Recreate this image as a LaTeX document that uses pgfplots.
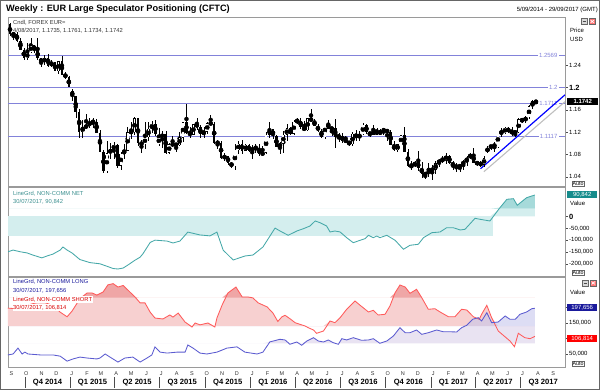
\documentclass[border=0pt]{standalone}
\usepackage{fontspec}
\setmainfont{Liberation Sans}
\usepackage{pgfplots}
\usepackage{pgfplotstable}
\pgfplotsset{compat=1.18}
\usepgfplotslibrary{fillbetween}

\definecolor{hlc}{HTML}{8282DA}
\definecolor{netline}{HTML}{45A8A8}
\definecolor{netband}{HTML}{D4EEEE}
\definecolor{netdark}{HTML}{A6DADA}
\definecolor{netbox}{HTML}{168C8C}
\definecolor{longline}{HTML}{5B5BD0}
\definecolor{longfill}{HTML}{C6C6EC}
\definecolor{lavfill}{HTML}{E4DCEF}
\definecolor{longbox}{HTML}{1A1A9C}
\definecolor{shortline}{HTML}{FF5A5A}
\definecolor{shortfill}{HTML}{F7D0D0}
\definecolor{shortdark}{HTML}{EFA6A6}
\definecolor{shortbox}{HTML}{FF0000}
\definecolor{frame}{HTML}{9A9A9A}

\pgfplotstableread{
w o h l c
0 1.3130 1.3160 1.2920 1.2950
1 1.2950 1.2990 1.2860 1.2960
2 1.2960 1.3000 1.2820 1.2830
3 1.2830 1.2880 1.2680 1.2680
4 1.2680 1.2710 1.2500 1.2520
5 1.2520 1.2790 1.2500 1.2630
6 1.2630 1.2890 1.2620 1.2760
7 1.2760 1.2770 1.2610 1.2670
8 1.2670 1.2890 1.2490 1.2520
9 1.2520 1.2530 1.2360 1.2450
10 1.2450 1.2580 1.2400 1.2530
11 1.2530 1.2600 1.2360 1.2390
12 1.2390 1.2500 1.2360 1.2450
13 1.2450 1.2460 1.2290 1.2290
14 1.2290 1.2480 1.2250 1.2470
15 1.2470 1.2570 1.2220 1.2230
16 1.2230 1.2270 1.2160 1.2190
17 1.2190 1.2210 1.2000 1.2000
18 1.1940 1.1980 1.1750 1.1840
19 1.1840 1.1850 1.1460 1.1560
20 1.1560 1.1620 1.1100 1.1200
21 1.1200 1.1420 1.1100 1.1290
22 1.1290 1.1530 1.1260 1.1310
23 1.1310 1.1450 1.1270 1.1390
24 1.1390 1.1450 1.1280 1.1380
25 1.1380 1.1430 1.1180 1.1190
26 1.1190 1.1240 1.0840 1.0840
27 1.0840 1.0880 1.0460 1.0500
28 1.0500 1.1050 1.0460 1.0820
29 1.0820 1.1000 1.0710 1.0890
30 1.0890 1.1030 1.0710 1.0970
31 1.0970 1.0980 1.0560 1.0600
32 1.0600 1.0850 1.0520 1.0810
33 1.0810 1.0990 1.0720 1.0870
34 1.0870 1.1290 1.0870 1.1200
35 1.1200 1.1390 1.1070 1.1200
36 1.1200 1.1470 1.1150 1.1450
37 1.1450 1.1460 1.0960 1.1010
38 1.1010 1.1060 1.0820 1.0980
39 1.0980 1.1380 1.0890 1.1110
40 1.1110 1.1380 1.1050 1.1260
41 1.1260 1.1400 1.1190 1.1350
42 1.1350 1.1410 1.1130 1.1160
43 1.0980 1.1280 1.0960 1.1110
44 1.1110 1.1220 1.0920 1.1160
45 1.1160 1.1220 1.0810 1.0830
46 1.0830 1.1000 1.0810 1.0980
47 1.0980 1.1130 1.0940 1.0980
48 1.0980 1.0990 1.0850 1.0970
49 1.0970 1.1210 1.0960 1.1100
50 1.1100 1.1390 1.1020 1.1380
51 1.1380 1.1710 1.1160 1.1190
52 1.1190 1.1290 1.1090 1.1150
53 1.1150 1.1350 1.1140 1.1340
54 1.1340 1.1460 1.1240 1.1300
55 1.1300 1.1320 1.1100 1.1160
56 1.1160 1.1290 1.1100 1.1210
57 1.1210 1.1390 1.1170 1.1360
58 1.1360 1.1500 1.1340 1.1350
59 1.1350 1.1380 1.0990 1.1010
60 1.1010 1.1060 1.0900 1.1010
61 1.1010 1.1040 1.0710 1.0740
62 1.0740 1.0820 1.0680 1.0770
63 1.0770 1.0780 1.0620 1.0650
64 1.0650 1.0670 1.0560 1.0590
65 1.0590 1.0980 1.0520 1.0880
66 1.0880 1.1040 1.0800 1.0990
67 1.0990 1.1060 1.0800 1.0870
68 1.0870 1.0990 1.0860 1.0970
69 1.0970 1.0990 1.0850 1.0860
70 1.0860 1.0970 1.0710 1.0920
71 1.0920 1.0990 1.0820 1.0920
72 1.0920 1.0990 1.0780 1.0800
73 1.0800 1.0960 1.0800 1.0830
74 1.0830 1.1200 1.0810 1.1150
75 1.1150 1.1380 1.1090 1.1250
76 1.1250 1.1260 1.1070 1.1130
77 1.1130 1.1140 1.0930 1.0930
78 1.0930 1.1030 1.0810 1.1000
79 1.1000 1.1220 1.0820 1.1150
80 1.1150 1.1340 1.1050 1.1270
81 1.1270 1.1290 1.1140 1.1170
82 1.1170 1.1410 1.1140 1.1390
83 1.1390 1.1460 1.1350 1.1400
84 1.1400 1.1460 1.1260 1.1290
85 1.1290 1.1400 1.1220 1.1230
86 1.1230 1.1450 1.1220 1.1450
87 1.1450 1.1620 1.1380 1.1400
88 1.1400 1.1440 1.1310 1.1310
89 1.1310 1.1350 1.1200 1.1220
90 1.1220 1.1250 1.1100 1.1110
91 1.1110 1.1370 1.1080 1.1370
92 1.1370 1.1420 1.1250 1.1250
93 1.1250 1.1300 1.1130 1.1280
94 1.1280 1.1430 1.0910 1.1120
95 1.1120 1.1180 1.1030 1.1130
96 1.1130 1.1190 1.1000 1.1050
97 1.1050 1.1130 1.1040 1.1040
98 1.1040 1.1050 1.0950 1.0980
99 1.0980 1.1200 1.0950 1.1170
100 1.1170 1.1230 1.1050 1.1090
101 1.1090 1.1220 1.1050 1.1160
102 1.1160 1.1370 1.1150 1.1330
103 1.1330 1.1340 1.1160 1.1200
104 1.1200 1.1210 1.1120 1.1150
105 1.1150 1.1330 1.1150 1.1230
106 1.1230 1.1280 1.1150 1.1150
107 1.1150 1.1260 1.1140 1.1230
108 1.1230 1.1270 1.1150 1.1240
109 1.1240 1.1250 1.1040 1.1200
110 1.1200 1.1240 1.0970 1.0970
111 1.0970 1.1040 1.0860 1.0880
112 1.0880 1.0990 1.0850 1.0980
113 1.0980 1.1140 1.0980 1.1140
114 1.1140 1.1300 1.0850 1.0850
115 1.0850 1.0890 1.0570 1.0590
116 1.0590 1.0690 1.0520 1.0590
117 1.0590 1.0680 1.0580 1.0660
118 1.0660 1.0870 1.0510 1.0560
119 1.0560 1.0670 1.0370 1.0450
120 1.0450 1.0480 1.0352 1.0450
121 1.0450 1.0650 1.0400 1.0520
122 1.0520 1.0620 1.0340 1.0530
123 1.0530 1.0690 1.0450 1.0640
124 1.0640 1.0720 1.0580 1.0700
125 1.0700 1.0770 1.0650 1.0700
126 1.0700 1.0830 1.0620 1.0780
127 1.0780 1.0790 1.0620 1.0640
128 1.0640 1.0680 1.0520 1.0610
129 1.0610 1.0650 1.0490 1.0560
130 1.0560 1.0630 1.0490 1.0620
131 1.0620 1.0700 1.0520 1.0670
132 1.0670 1.0780 1.0600 1.0740
133 1.0740 1.0830 1.0720 1.0800
134 1.0800 1.0910 1.0650 1.0650
135 1.0650 1.0690 1.0600 1.0640
136 1.0640 1.0680 1.0570 1.0620
137 1.0620 1.0780 1.0570 1.0730
138 1.0860 1.0950 1.0820 1.0900
139 1.0900 1.0990 1.0880 1.0990
140 1.0990 1.1020 1.0840 1.0930
141 1.0930 1.1210 1.0920 1.1210
142 1.1210 1.1270 1.1110 1.1180
143 1.1180 1.1290 1.1170 1.1280
144 1.1280 1.1290 1.1190 1.1200
145 1.1200 1.1290 1.1130 1.1200
146 1.1200 1.1210 1.1120 1.1195
147 1.1195 1.1450 1.1190 1.1430
148 1.1430 1.1450 1.1370 1.1400
149 1.1400 1.1490 1.1370 1.1470
150 1.1470 1.1680 1.1430 1.1660
151 1.1660 1.1780 1.1610 1.1750
152 1.1735 1.1761 1.1734 1.1742
}\pricedata

\pgfplotstableread{
w v
-0.6 -149000
0.9 -142000
2.9 -149000
4.9 -154000
6.6 -163000
9.2 -175000
10.7 -167000
12.4 -159000
14.5 -142000
15.3 -129000
16.5 -142000
17.9 -154000
20.2 -182000
23.1 -195000
26.0 -200000
28.3 -212000
29.8 -220000
31.2 -222000
32.7 -218000
34.1 -205000
36.1 -185000
37.6 -172000
38.4 -158000
39.5 -133000
40.5 -110000
41.9 -100000
45.4 -104000
47.1 -112000
49.1 -104000
51.4 -66000
54.9 -78000
57.8 -82000
59.8 -66000
61.6 -142000
64.5 -184000
67.9 -167000
70.2 -163000
73.1 -129000
76.6 -49000
78.0 -61000
80.4 -79500
82.9 -61300
84.8 -51600
86.7 -40200
88.2 -19000
89.6 -26200
91.5 -40200
92.5 -65500
93.9 -61300
95.4 -65500
97.3 -89600
99.2 -110800
101.2 -100600
102.6 -93900
103.6 -79500
105.0 -89600
106.0 -82500
106.9 -89600
108.9 -79500
111.3 -100600
113.7 -138700
115.6 -121800
118.0 -117500
119.5 -89600
121.9 -68500
124.3 -65500
126.2 -47400
128.1 -47400
130.1 -57100
131.5 -54100
134.4 -7600
135.8 -11800
138.7 -19000
141.6 37200
143.6 72700
145.5 75300
146.6 47400
149.3 79500
151.7 90842
}\netdata

\pgfplotstableread{
w v
-0.6 47000
0.9 50000
2.3 69000
3.5 50000
4.3 56000
5.2 50000
8.7 47000
12.4 47000
14.5 43000
16.5 27000
18.2 34000
20.2 40000
22.3 37000
25.1 34000
26.0 37000
27.5 50000
28.9 40000
31.2 24000
33.2 37000
35.5 40000
37.6 24000
39.6 37000
41.0 47000
41.9 73000
43.4 56000
45.4 53000
48.3 56000
50.6 56000
51.4 79000
52.9 69000
54.9 53000
56.9 50000
59.8 56000
62.7 69000
65.6 73000
67.9 56000
71.4 50000
73.1 56000
75.1 89000
78.0 97400
79.5 95200
80.9 81300
82.9 88700
84.3 78100
85.8 91900
87.7 102600
89.1 91900
90.6 88700
92.0 95200
93.4 86500
94.9 81300
95.9 99400
97.3 95200
99.2 102600
101.6 94200
103.6 95200
105.0 99400
106.9 84500
108.9 91900
110.8 108100
112.7 134800
114.2 118700
115.6 118700
117.5 127400
119.0 113500
120.9 118700
123.3 127400
125.2 121900
126.7 121900
129.1 121000
130.5 134800
132.0 142600
133.7 161900
135.3 167100
136.3 156500
137.8 183200
139.2 151000
141.1 153200
143.1 172600
144.5 161900
146.0 161900
147.4 178100
149.3 185500
150.8 196100
151.7 197656
}\longdata

\pgfplotstableread{
w v
-0.6 198000
2.9 195000
5.8 210000
9.2 220000
12.4 206000
14.5 185000
16.5 170000
17.9 188000
20.2 228000
22.3 247000
23.7 247000
25.1 240000
26.9 250000
28.3 273000
29.8 277000
31.2 266000
32.7 271000
34.1 256000
36.1 234000
37.6 215000
39.0 215000
40.5 185000
41.9 166000
44.2 163000
46.2 176000
47.1 169000
48.6 182000
50.6 153000
52.6 137000
53.5 150000
54.9 144000
57.2 150000
59.2 137000
59.8 166000
61.3 208000
63.0 247000
65.3 266000
67.1 234000
68.8 234000
70.2 231000
71.7 215000
74.3 202000
76.0 182000
77.4 155000
78.6 170000
79.5 174800
80.9 163900
82.4 151000
83.8 145800
85.3 140300
86.2 134800
87.7 127400
88.6 116800
90.6 124200
92.5 156500
93.9 151000
95.4 167100
97.3 194200
99.7 221000
101.2 207100
103.6 185500
105.0 191000
106.4 175800
108.4 178100
109.8 204800
111.3 247700
112.7 272600
114.2 266100
115.6 245800
117.5 258700
119.0 231600
120.9 194200
122.8 196100
124.3 185500
126.7 170300
128.6 170300
130.5 194200
132.0 191900
133.9 170300
135.6 161900
136.3 178100
137.8 207100
139.2 167100
141.1 124200
144.5 91900
145.8 73500
146.9 116800
148.8 102600
150.3 99400
151.7 106814
}\shortdata

\pgfplotsset{
  panel/.style={
    scale only axis, width=557pt,
    xmin=-0.58, xmax=160.4,
    axis line style={draw=frame, line width=0.6pt},
    ytick pos=right, tick align=outside, major tick length=2.5pt,
    tick style={black!70, line width=0.5pt},
    yticklabel style={font=\fontsize{6}{7}\selectfont, inner sep=1.5pt},
    scaled y ticks=false, xtick=\empty,
    /pgf/number format/assume math mode=true,
    clip mode=individual,
  },
}

\begin{document}
\begin{tikzpicture}

% ---------------- price panel
\begin{axis}[panel, at={(8pt,204pt)}, anchor=south west, height=169pt,
  ymin=1.02348, ymax=1.32634,
  ytick={1.04,1.08,1.12,1.16,1.2,1.24},
  yticklabels={1.04,1.08,1.12,1.16,{\bfseries\fontsize{7.5}{8}\selectfont 1.2},1.24}]
\addplot[color=hlc, line width=0.9pt, forget plot] coordinates {(-0.58,1.2569) (160.4,1.2569)};
\addplot[color=hlc, line width=0.9pt, forget plot] coordinates {(-0.58,1.2) (160.4,1.2)};
\addplot[color=hlc, line width=0.9pt, forget plot] coordinates {(-0.58,1.1711) (160.4,1.1711)};
\addplot[color=hlc, line width=0.9pt, forget plot] coordinates {(-0.58,1.1117) (160.4,1.1117)};
\node[anchor=east, fill=white, inner xsep=1.2pt, inner ysep=0.5pt, text=hlc, font=\fontsize{6}{7}\selectfont] at (axis cs:158.6,1.2569) {1.2569};
\node[anchor=east, fill=white, inner xsep=1.2pt, inner ysep=0.5pt, text=hlc, font=\fontsize{6}{7}\selectfont] at (axis cs:158.6,1.2) {1.2};
\node[anchor=east, fill=white, inner xsep=1.2pt, inner ysep=0.5pt, text=hlc, font=\fontsize{6}{7}\selectfont] at (axis cs:158.6,1.1711) {1.1711};
\node[anchor=east, fill=white, inner xsep=1.2pt, inner ysep=0.5pt, text=hlc, font=\fontsize{6}{7}\selectfont] at (axis cs:158.6,1.1117) {1.1117};
% trend lines
\addplot[black!25, line width=1.1pt, forget plot] coordinates {(136.95,1.0491) (160.4,1.1746)};
\addplot[blue, line width=1.2pt, forget plot] coordinates {(136.0,1.0545) (160.4,1.1869)};
% wicks
\addplot[only marks, mark=none, forget plot, error bars/.cd, y dir=both, y explicit, error mark=none,
  error bar style={black, line width=0.4pt}]
  table[x=w, y expr={(\thisrow{h}+\thisrow{l})/2}, y error expr={(\thisrow{h}-\thisrow{l})/2}] {\pricedata};
% bodies
\addplot[only marks, mark=none, forget plot, error bars/.cd, y dir=both, y explicit, error mark=none,
  error bar style={black, line width=2.5pt}]
  table[x=w, y expr={(\thisrow{o}+\thisrow{c})/2}, y error expr={max(abs(\thisrow{c}-\thisrow{o})/2,0.0005)}] {\pricedata};
\addplot[only marks, mark=none, forget plot, error bars/.cd, y dir=both, y explicit, error mark=none,
  error bar style={white, line width=1.75pt}]
  table[x=w, y expr={(\thisrow{o}+\thisrow{c})/2}, y error expr={max((\thisrow{c}-\thisrow{o})/2-0.0008,0)}] {\pricedata};
\end{axis}

% ---------------- NET panel
\begin{axis}[panel, at={(8pt,114pt)}, anchor=south west, height=89pt,
  ymin=-251600, ymax=124700,
  ytick={-200000,-150000,-100000,-50000,0},
  yticklabels={{-200,000},{-150,000},{-100,000},{-50,000},{\bfseries\fontsize{7.5}{8}\selectfont 0}}]
\addplot[draw=none, name path=zbtop, forget plot] coordinates {(-0.6,0) (139.7,0)};
\addplot[draw=none, name path=zband, forget plot] coordinates {(-0.6,-82500) (139.7,-82500)};
\addplot[netband, forget plot] fill between[of=zbtop and zband];
\addplot[fill=netband, draw=none, forget plot] table[x=w, y expr={min(max(\thisrow{v},0),33000)}] {\netdata} -- (axis cs:151.7,0) -- (axis cs:-0.6,0) -- cycle;
\addplot[fill=netdark, draw=none, forget plot] table[x=w, y expr={max(\thisrow{v},33000)}] {\netdata} -- (axis cs:151.7,33000) -- (axis cs:-0.6,33000) -- cycle;
\addplot[netline, line width=0.85pt] table[x=w,y=v] {\netdata};
\end{axis}

% ---------------- LONG / SHORT panel
\begin{axis}[panel, at={(8pt,23pt)}, anchor=south west, height=90pt,
  ymin=8060, ymax=298400,
  ytick={50000,100000,150000,200000},
  yticklabels={{50,000},{},{150,000},{}}]
\addplot[fill=shortfill, draw=none, forget plot] table[x=w, y expr={max(\thisrow{v},140300)}] {\shortdata} -- (axis cs:151.7,140300) -- (axis cs:-0.6,140300) -- cycle;
\addplot[fill=shortdark, draw=none, forget plot] table[x=w, y expr={max(\thisrow{v},231600)}] {\shortdata} -- (axis cs:151.7,231600) -- (axis cs:-0.6,231600) -- cycle;
\addplot[fill=lavfill, fill opacity=0.8, draw=none, forget plot] table[x=w, y expr={min(max(\thisrow{v},84500),140300)}] {\longdata} -- (axis cs:151.7,84500) -- (axis cs:-0.6,84500) -- cycle;
\addplot[fill=longfill, fill opacity=0.6, draw=none, forget plot] table[x=w, y expr={max(\thisrow{v},140300)}] {\longdata} -- (axis cs:151.7,140300) -- (axis cs:-0.6,140300) -- cycle;
\addplot[shortline, line width=0.85pt] table[x=w,y=v] {\shortdata};
\addplot[longline, line width=0.85pt] table[x=w,y=v] {\longdata};
\end{axis}

% ---------------- decorations and text
\begin{scope}[x=1pt,y=1pt]
\draw[black!60, line width=1.2pt] (0.6,0.6) rectangle (599.4,389.4);
\node[anchor=base west, inner sep=0pt, font=\bfseries\fontsize{9.2}{11}\selectfont] at (6,378) {Weekly : EUR Large Speculator Positioning (CFTC)};
\node[anchor=base east, inner sep=0pt, font=\fontsize{6}{7}\selectfont] at (598,378.5) {5/09/2014 - 29/09/2017 (GMT)};
% price panel texts
\node[anchor=west, inner sep=0pt, font=\fontsize{5.8}{7}\selectfont, text=black!80] at (13,367.5) {Cndl, FOREX EUR=};
\node[anchor=west, inner sep=0pt, font=\fontsize{5.8}{7}\selectfont, text=black!80] at (13,359.5) {4/08/2017, 1.1735, 1.1761, 1.1734, 1.1742};
\node[anchor=west, inner sep=0pt, font=\fontsize{6}{7}\selectfont] at (570,360) {Price};
\node[anchor=west, inner sep=0pt, font=\fontsize{6}{7}\selectfont] at (570,351) {USD};
\node[anchor=west, fill=black, text=white, inner sep=0.8pt, minimum width=31pt, minimum height=7.5pt, font=\bfseries\fontsize{6}{7}\selectfont] at (567,288.5) {1.1742};
\draw[black!60, fill=black!15, line width=0.4pt] (581,365.5) rectangle (587,371.5);
\draw[black!70, line width=0.6pt] (582.5,368.5) -- (585.5,368.5);
\draw[black!60, fill=red!55, line width=0.4pt] (589,365.5) rectangle (595.5,371.5);
\draw[white, line width=0.6pt] (590.5,367) -- (594,370) (590.5,370) -- (594,367);
\node[draw=black!60, inner sep=0.8pt, font=\fontsize{5.3}{6}\selectfont] at (578,206.5) {Auto};
% net panel texts
\node[anchor=west, inner sep=0pt, font=\fontsize{5.8}{7}\selectfont, text=netline!85!black] at (13,196.3) {LineGrd, NON-COMM NET};
\node[anchor=west, inner sep=0pt, font=\fontsize{5.8}{7}\selectfont, text=netline!85!black] at (13,188) {30/07/2017, 90,842};
\node[anchor=west, fill=netbox, text=white, inner sep=0.8pt, minimum width=30pt, minimum height=7pt, font=\fontsize{6}{7}\selectfont] at (567,195.7) {90,842};
\node[anchor=west, inner sep=0pt, font=\fontsize{6}{7}\selectfont] at (570,187) {Value};
\node[draw=black!60, inner sep=0.8pt, font=\fontsize{5.3}{6}\selectfont] at (578,117) {Auto};
% long/short panel texts
\node[anchor=west, inner sep=0pt, font=\fontsize{5.8}{7}\selectfont, text=longbox] at (13,108) {LineGrd, NON-COMM LONG};
\node[anchor=west, inner sep=0pt, font=\fontsize{5.8}{7}\selectfont, text=longbox] at (13,99.5) {30/07/2017, 197,656};
\node[anchor=west, fill=white, inner xsep=0.5pt, inner ysep=0.6pt, font=\fontsize{5.8}{7}\selectfont, text=red!85!black] at (12.5,90.5) {LineGrd, NON-COMM SHORT};
\node[anchor=west, fill=white, inner xsep=0.5pt, inner ysep=0.6pt, font=\fontsize{5.8}{7}\selectfont, text=red!85!black] at (12.5,82.5) {30/07/2017, 106,814};
\node[anchor=west, inner sep=0pt, font=\fontsize{6}{7}\selectfont] at (570,98) {Value};
\node[anchor=west, fill=longbox, text=white, inner sep=0.8pt, minimum width=30pt, minimum height=7pt, font=\fontsize{6}{7}\selectfont] at (567,82.5) {197,656};
\node[anchor=west, fill=shortbox, text=white, inner sep=0.8pt, minimum width=30pt, minimum height=7pt, font=\fontsize{6}{7}\selectfont] at (567,51) {106,814};
\draw[black!60, fill=black!15, line width=0.4pt] (582,104) rectangle (588,110);
\draw[black!70, line width=0.6pt] (583.5,107) -- (586.5,107);
\draw[black!60, fill=red!55, line width=0.4pt] (590,104) rectangle (596.5,110);
\draw[white, line width=0.6pt] (591.5,105.5) -- (595,108.5) (591.5,108.5) -- (595,105.5);
\node[draw=black!60, inner sep=0.8pt, font=\fontsize{5.3}{6}\selectfont] at (578,26.5) {Auto};
% month letters
\foreach \w/\l in {0/S,4.286/O,8.714/N,13/D,17.429/J,21.857/F,25.857/M,30.286/A,34.571/M,39/J,43.286/J,47.714/A,52.143/S,56.429/O,60.857/N,65.143/D,69.571/J,74/F,78.143/M,82.571/A,86.857/M,91.286/J,95.571/J,100/A,104.429/S,108.714/O,113.143/N,117.429/D,121.857/J,126.286/F,130.286/M,134.714/A,139/M,143.429/J,147.714/J,152.143/A,156.571/S}
  \node[inner sep=0pt, font=\fontsize{5.5}{6}\selectfont, text=black!80] at ({11.5+3.46*\w},16) {\l};
% quarter separators and labels
\foreach \xx in {24.8,70.2,114.7,159.6,205.0,250.4,295.4,340.3,385.7,431.1,475.6,520.5}
  \draw[black!70, line width=0.6pt] (\xx,2) -- (\xx,12.5);
\foreach \xx/\lab in {47.5/Q4 2014,92.5/Q1 2015,137.1/Q2 2015,182.3/Q3 2015,227.7/Q4 2015,272.9/Q1 2016,317.8/Q2 2016,363.0/Q3 2016,408.4/Q4 2016,453.4/Q1 2017,498.0/Q2 2017,543.2/Q3 2017}
  \node[inner sep=0pt, font=\bfseries\fontsize{7.6}{9}\selectfont] at (\xx,7) {\lab};
\end{scope}
\pgfresetboundingbox
\path[use as bounding box] (0pt,0pt) rectangle (600pt,390pt);
\end{tikzpicture}
\end{document}
